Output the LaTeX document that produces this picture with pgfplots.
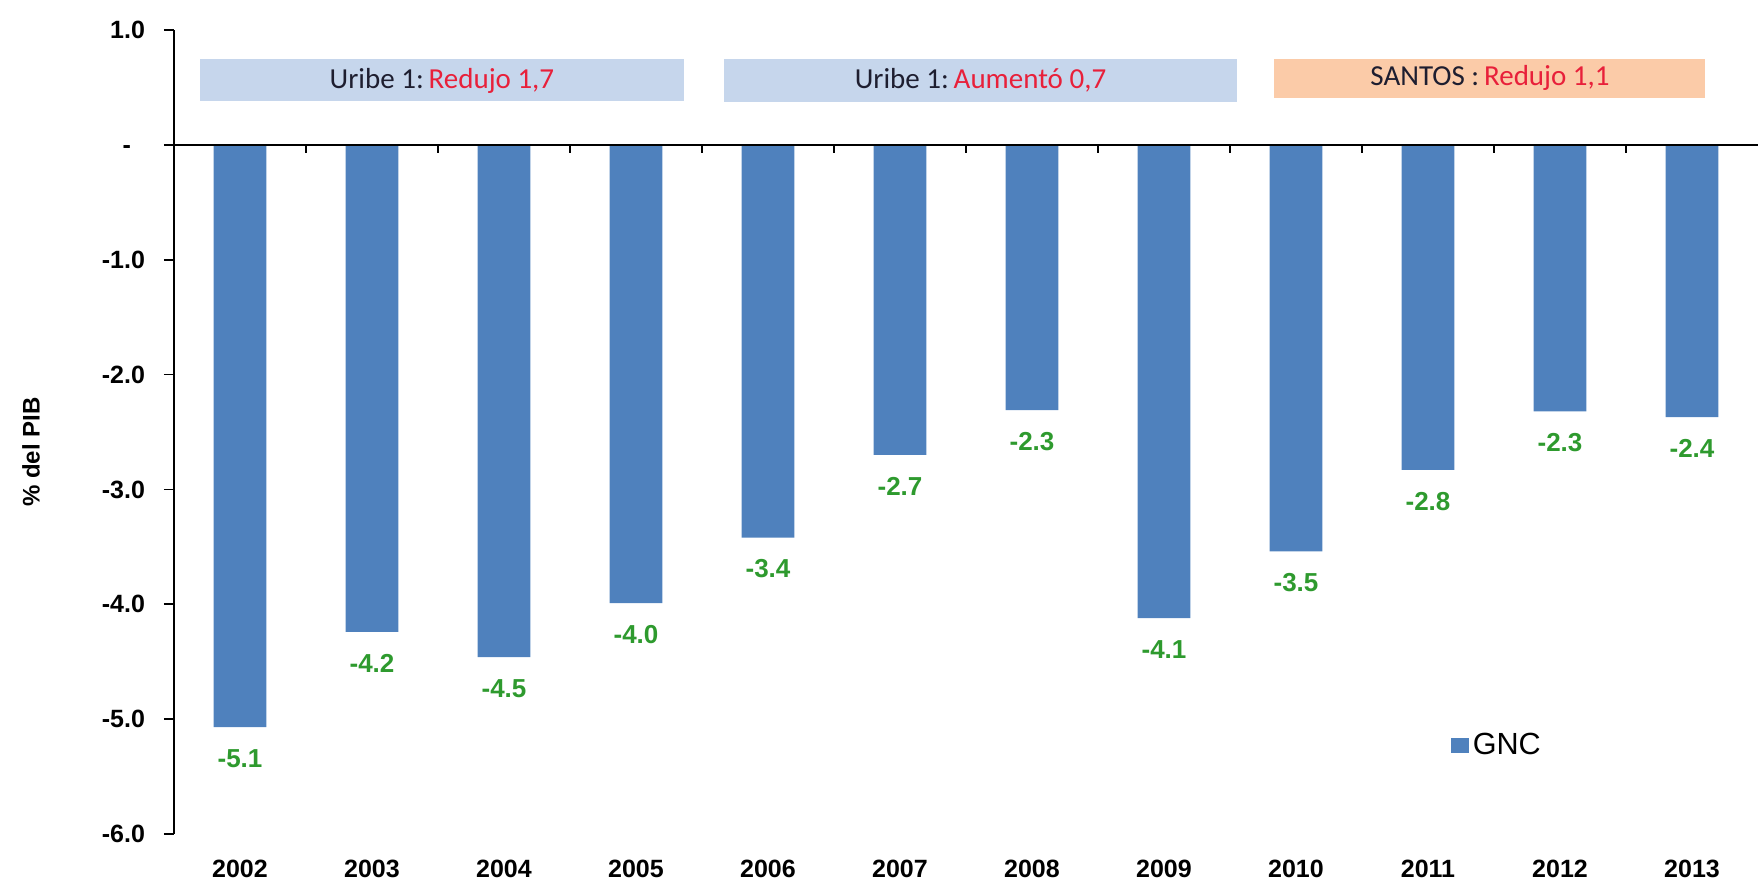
\documentclass[border=0pt]{standalone}
\usepackage{pgfplots}
\pgfplotsset{compat=1.18}
\usepackage{fontspec}
\setmainfont{Liberation Sans}
\newfontfamily\carlito{Carlito}
\definecolor{barblue}{HTML}{4F81BD}
\definecolor{labgreen}{HTML}{2E9A2E}
\definecolor{boxblue}{HTML}{C6D6EC}
\definecolor{boxorange}{HTML}{FBCBA8}
\definecolor{redtxt}{HTML}{E8203A}
\definecolor{darktxt}{HTML}{1E1E30}
\pgfplotstableread{
x y
0 -5.07
1 -4.24
2 -4.46
3 -3.99
4 -3.42
5 -2.70
6 -2.31
7 -4.12
8 -3.54
9 -2.83
10 -2.32
11 -2.37
}\gnc
\begin{document}
\begin{tikzpicture}
\useasboundingbox (0,0) rectangle (879pt,441.5pt);
\begin{axis}[
  at={(87pt,24.5pt)}, anchor=south west,
  width=792pt, height=402pt, scale only axis,
  xmin=-0.5, xmax=11.5, ymin=-6, ymax=1,
  axis y line*=left, axis x line*=bottom,
  x axis line style={draw=none},
  y axis line style={line width=0.8pt},
  xtick={0,...,11},
  xticklabels={2002,2003,2004,2005,2006,2007,2008,2009,2010,2011,2012,2013},
  xtick style={draw=none},
  ytick={1,0,-1,-2,-3,-4,-5,-6},
  yticklabels={1.0,-\phantom{0},-1.0,-2.0,-3.0,-4.0,-5.0,-6.0},
  ytick style={line width=0.8pt, black},
  tick align=outside, major tick length=5pt,
  ticklabel style={font=\fontsize{12.5}{14}\selectfont\bfseries},
  yticklabel style={xshift=-6pt},
  xticklabel style={yshift=-4.5pt},
  ylabel={\% del PIB},
  ylabel style={at={(axis description cs:-0.0903,0.475)}, rotate=0, anchor=center, font=\fontsize{12}{14}\selectfont\bfseries},
  legend style={at={(axis cs:9.17,-5.23)}, anchor=west, draw=none, fill=none, font=\fontsize{15.3}{17}\selectfont, inner sep=0pt},
  legend image code/.code={\fill[barblue] (0pt,-3.75pt) rectangle (9pt,3.75pt);},
  legend cell align=left,
]
\fill[boxblue] (axis cs:-0.30,0.38) rectangle (axis cs:3.36,0.75);
\fill[boxblue] (axis cs:3.67,0.37) rectangle (axis cs:7.55,0.75);
\fill[boxorange] (axis cs:7.83,0.41) rectangle (axis cs:11.1,0.75);
\node[font=\carlito\fontsize{14.5}{16}\selectfont, text=darktxt] at (axis cs:1.53,0.56) {Uribe 1:\,\textcolor{redtxt}{Redujo 1,7}};
\node[font=\carlito\fontsize{14.5}{16}\selectfont, text=darktxt] at (axis cs:5.61,0.56) {Uribe 1:\,\textcolor{redtxt}{Aumentó 0,7}};
\node[font=\carlito\fontsize{14.5}{16}\selectfont, text=darktxt] at (axis cs:9.47,0.58) {SANTOS :\,\textcolor{redtxt}{Redujo 1,1}};
\addplot[ybar, bar width=0.4, fill=barblue, draw=none,
  nodes near coords={\pgfmathprintnumber[fixed,fixed zerofill,precision=1,assume math mode=true]{\pgfplotspointmeta}},
  every node near coord/.append style={font=\fontsize{13}{15}\selectfont\bfseries, text=labgreen, yshift=-7.5pt}
] table[x=x,y=y] {\gnc};
\addlegendentry{GNC}
\draw[line width=1pt] (axis cs:-0.5,0) -- (axis cs:11.5,0);
\pgfplotsinvokeforeach{0.5,1.5,2.5,3.5,4.5,5.5,6.5,7.5,8.5,9.5,10.5}{
  \draw[line width=0.8pt] (axis cs:#1,0) -- ([yshift=-4pt]axis cs:#1,0);
}
\end{axis}
\end{tikzpicture}
\end{document}
